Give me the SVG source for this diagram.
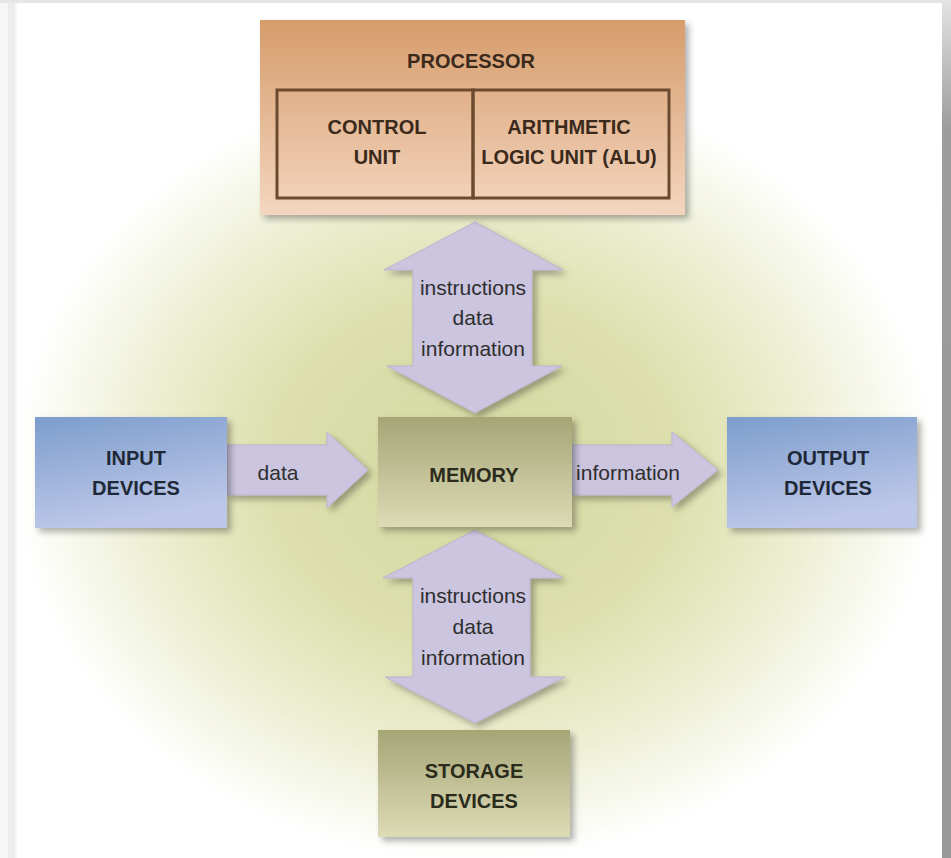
<svg xmlns="http://www.w3.org/2000/svg" width="951" height="858" viewBox="0 0 951 858">
  <defs>
    <radialGradient id="bg" cx="475" cy="470" r="460" gradientUnits="userSpaceOnUse" gradientTransform="translate(475 470) scale(1 0.85) translate(-475 -470)">
      <stop offset="0" stop-color="#d3d7a0"/>
      <stop offset="0.45" stop-color="#dde0ae"/>
      <stop offset="0.75" stop-color="#eef0d6"/>
      <stop offset="1" stop-color="#ffffff"/>
    </radialGradient>
    <linearGradient id="gProc" x1="0" y1="0" x2="0" y2="1">
      <stop offset="0" stop-color="#d69c6b"/>
      <stop offset="1" stop-color="#f4d6c0"/>
    </linearGradient>
    <linearGradient id="gBlue" x1="0" y1="0" x2="0.3" y2="1">
      <stop offset="0" stop-color="#7d9dcd"/>
      <stop offset="1" stop-color="#bdc8e8"/>
    </linearGradient>
    <linearGradient id="gOlive" x1="0" y1="0" x2="0" y2="1">
      <stop offset="0" stop-color="#a6a576"/>
      <stop offset="1" stop-color="#dcdbb6"/>
    </linearGradient>
    <linearGradient id="gRight" x1="0" y1="0" x2="0" y2="1">
      <stop offset="0" stop-color="#e4e4e4"/>
      <stop offset="0.15" stop-color="#9c9c9c"/>
      <stop offset="1" stop-color="#999999"/>
    </linearGradient>
    <filter id="shadow" x="-10%" y="-10%" width="125%" height="130%">
      <feDropShadow dx="4" dy="4" stdDeviation="3" flood-color="#000000" flood-opacity="0.3"/>
    </filter>
  </defs>
  <style>
    .lbl { font-family: "Liberation Sans", Arial, sans-serif; font-weight: bold; font-size: 20px; text-anchor: middle; }
    .alb { font-family: "Liberation Sans", Arial, sans-serif; font-size: 21px; text-anchor: middle; fill: #2e2e2e; }
    .arrow { fill: #cbc5df; stroke: #b9b3cf; stroke-width: 1; filter: url(#shadow); }
  </style>

  <!-- background and frame -->
  <rect x="0" y="0" width="951" height="858" fill="#ffffff"/>
  <rect x="17" y="3" width="925" height="855" fill="url(#bg)"/>
  <rect x="0" y="0" width="17" height="858" fill="#f6f6f6"/>
  <rect x="8" y="0" width="7" height="858" fill="#ececec"/>
  <rect x="0" y="0" width="951" height="3" fill="#e6e6e6"/>
  <rect x="942" y="0" width="9" height="858" fill="url(#gRight)"/>

  <!-- connectors -->
  <g id="connectors">
    <path class="arrow" d="M475,222 L563,270 L532,270 L532,366 L562,366 L475,413 L387,366 L413,366 L413,270 L384,270 Z"/>
    <path class="arrow" d="M475,530 L563,578 L530,578 L530,677 L565,677 L475,723 L385,677 L413,677 L413,578 L383,578 Z"/>
    <path class="arrow" d="M227,445 L327,445 L327,432 L368,470 L327,508 L327,495 L227,495 Z"/>
    <path class="arrow" d="M572,445 L672,445 L672,432 L718,470 L672,507 L672,495 L572,495 Z"/>
    <text class="alb" x="473" y="295">instructions</text>
    <text class="alb" x="473" y="325">data</text>
    <text class="alb" x="473" y="356">information</text>
    <text class="alb" x="473" y="603">instructions</text>
    <text class="alb" x="473" y="634">data</text>
    <text class="alb" x="473" y="665">information</text>
    <text class="alb" x="278" y="480">data</text>
    <text class="alb" x="628" y="480">information</text>
  </g>

  <!-- processor -->
  <g id="processor">
    <rect x="260" y="20" width="425" height="195" fill="url(#gProc)" filter="url(#shadow)"/>
    <text class="lbl" x="471" y="68" fill="#3b2a1c">PROCESSOR</text>
    <g id="control-unit">
      <rect x="277" y="90" width="196" height="108" fill="none" stroke="#6b4a2f" stroke-width="3"/>
      <text class="lbl" x="377" y="134" fill="#3b2a1c">CONTROL</text>
      <text class="lbl" x="377" y="164" fill="#3b2a1c">UNIT</text>
    </g>
    <g id="alu">
      <rect x="473" y="90" width="196" height="108" fill="none" stroke="#6b4a2f" stroke-width="3"/>
      <text class="lbl" x="569" y="134" fill="#3b2a1c">ARITHMETIC</text>
      <text class="lbl" x="569" y="164" fill="#3b2a1c">LOGIC UNIT (ALU)</text>
    </g>
  </g>

  <!-- memory -->
  <g id="memory">
    <rect x="378" y="417" width="194" height="110" fill="url(#gOlive)" filter="url(#shadow)"/>
    <text class="lbl" x="474" y="482" fill="#2b2b1c">MEMORY</text>
  </g>

  <!-- input devices -->
  <g id="input-devices">
    <rect x="35" y="417" width="192" height="111" fill="url(#gBlue)" filter="url(#shadow)"/>
    <text class="lbl" x="136" y="465" fill="#1f2838">INPUT</text>
    <text class="lbl" x="136" y="495" fill="#1f2838">DEVICES</text>
  </g>

  <!-- output devices -->
  <g id="output-devices">
    <rect x="727" y="417" width="190" height="111" fill="url(#gBlue)" filter="url(#shadow)"/>
    <text class="lbl" x="828" y="465" fill="#1f2838">OUTPUT</text>
    <text class="lbl" x="828" y="495" fill="#1f2838">DEVICES</text>
  </g>

  <!-- storage devices -->
  <g id="storage-devices">
    <rect x="378" y="730" width="192" height="107" fill="url(#gOlive)" filter="url(#shadow)"/>
    <text class="lbl" x="474" y="778" fill="#2b2b1c">STORAGE</text>
    <text class="lbl" x="474" y="808" fill="#2b2b1c">DEVICES</text>
  </g>
</svg>
